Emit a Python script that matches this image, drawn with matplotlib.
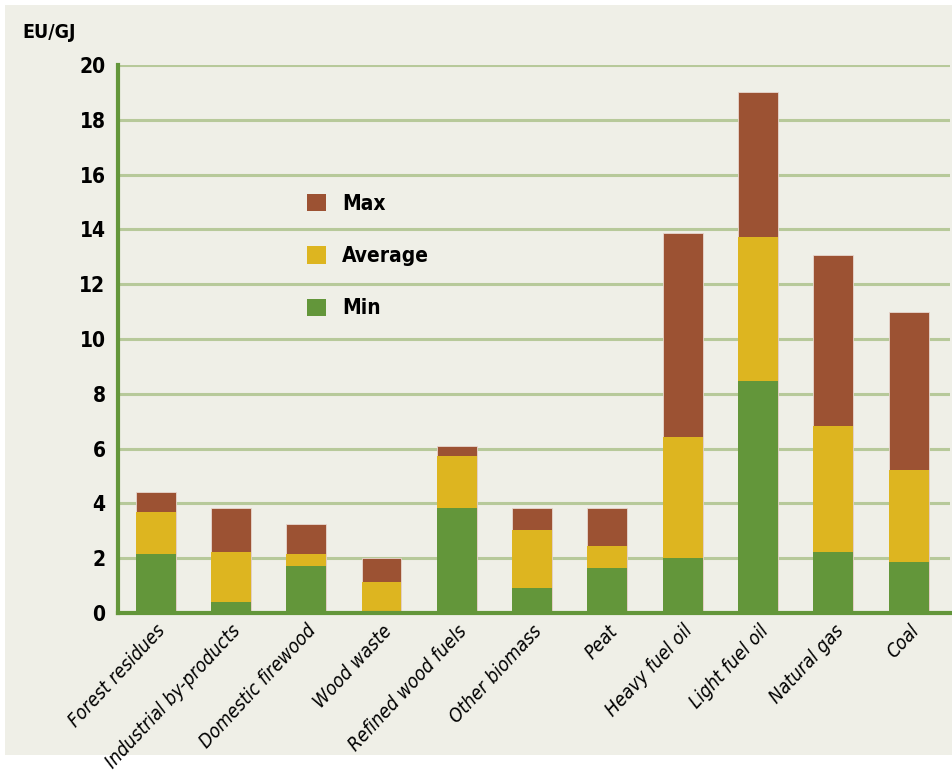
import matplotlib
matplotlib.use("Agg")
import matplotlib.pyplot as plt
from matplotlib.patches import Patch, Rectangle
import numpy as np

categories = ["Forest residues", "Industrial by-products", "Domestic firewood", "Wood waste",
              "Refined wood fuels", "Other biomass", "Peat", "Heavy fuel oil",
              "Light fuel oil", "Natural gas", "Coal"]
max_vals = [4.43, 3.83, 3.25, 2.0, 6.1, 3.83, 3.83, 13.87, 19.0, 13.07, 11.0]
avg_vals = [3.69, 2.23, 2.15, 1.13, 5.74, 3.03, 2.45, 6.42, 13.72, 6.82, 5.22]
min_vals = [2.15, 0.40, 1.71, 0.06, 3.83, 0.91, 1.64, 2.0, 8.47, 2.23, 1.86]
yticks = [0, 2, 4, 6, 8, 10, 12, 14, 16, 18, 20]

C_MAX = "#9C5233"
C_AVG = "#DDB520"
C_MIN = "#63963A"
BG = "#EFEFE7"
GRID = "#B7C99A"
SPINE = "#63963A"
FAM = ["DejaVu Sans"]

fig = plt.figure(figsize=(9.52, 7.72), dpi=100, facecolor="white")
fig.patches.append(Rectangle((0.005, 0.022), 0.995, 0.972, transform=fig.transFigure,
                             facecolor=BG, edgecolor="none", zorder=-10))
ax = fig.add_axes([118/952, 1-613/772, (950-118)/952, (613-65)/772])
ax.set_facecolor("none")

x = np.arange(len(categories))
w = 0.53
ax.bar(x, max_vals, width=w, color=C_MAX, edgecolor="#E8D8D0", linewidth=0.6, zorder=3)
ax.bar(x, avg_vals, width=w, color=C_AVG, edgecolor="none", zorder=4)
min_colors = [C_MIN] * len(categories)
min_colors[3] = "#222222"
ax.bar(x, min_vals, width=w, color=min_colors, edgecolor="none", zorder=5)

ax.set_xlim(-0.5, len(categories) - 0.45)
ax.set_ylim(0, 20)
ax.set_yticks(yticks)
ax.set_yticklabels([str(v) for v in yticks], fontsize=15, fontweight="bold",
                   family=FAM, fontstretch="condensed")
for v in yticks[1:]:
    ax.axhline(v, color=GRID, lw=2.2, zorder=1)
ax.tick_params(axis="y", length=0, pad=9)
ax.tick_params(axis="x", length=0, pad=6)
ax.set_xticks(x)
ax.set_xticklabels(categories, rotation=47, ha="right", rotation_mode="anchor",
                   fontsize=13.8, style="italic", family=FAM, fontstretch="condensed")

for s in ["top", "right"]:
    ax.spines[s].set_visible(False)
ax.spines["left"].set_color(SPINE)
ax.spines["left"].set_linewidth(3)
ax.spines["bottom"].set_color(SPINE)
ax.spines["bottom"].set_linewidth(3)
ax.spines["left"].set_zorder(6)
ax.spines["bottom"].set_zorder(6)

fig.text(22/952, 1-33/772, "EU/GJ", fontsize=14, fontweight="bold", va="center", ha="left",
         family=FAM, fontstretch="condensed")

handles = [Patch(facecolor=C_MAX, edgecolor="none"),
           Patch(facecolor=C_AVG, edgecolor="none"),
           Patch(facecolor=C_MIN, edgecolor="none")]
leg = ax.legend(handles, ["Max", "Average", "Min"], loc="upper left",
                bbox_to_anchor=((288-118)/832, (613-175)/548), frameon=False,
                handlelength=0.9, handleheight=0.9, handletextpad=0.8, labelspacing=1.55,
                prop={"family": FAM, "size": 15, "weight": "bold", "stretch": "condensed"})

fig.savefig("out.png", dpi=100, facecolor=fig.get_facecolor())
